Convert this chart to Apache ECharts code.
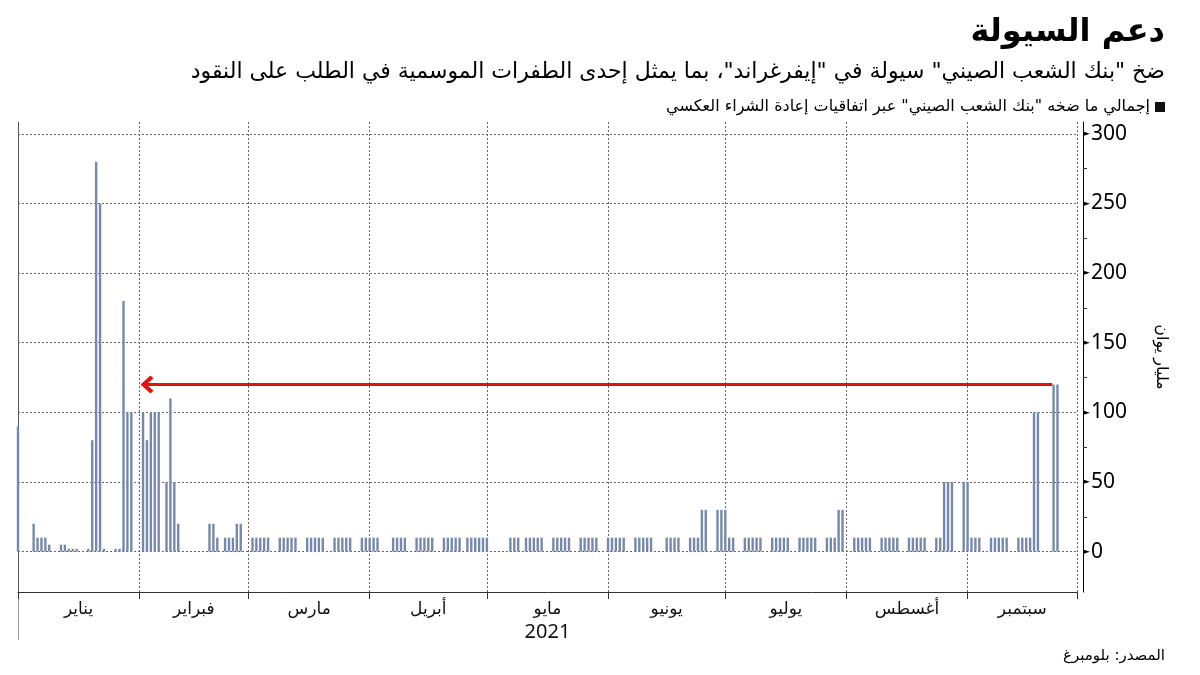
<!DOCTYPE html>
<html>
<head>
<meta charset="utf-8">
<script src="https://cdn.jsdelivr.net/npm/echarts@6/dist/echarts.min.js"></script>
<style>
html,body{margin:0;padding:0;background:#fff;}
#chart{width:1200px;height:675px;}
</style>
</head>
<body>
<div id="chart"></div>
<script>
// ---------- texts ----------
const titleText = 'دعم السيولة';
const subtitleText = 'ضخ "بنك الشعب الصيني" سيولة في "إيفرغراند"، بما يمثل إحدى الطفرات الموسمية في الطلب على النقود';
const seriesName = 'إجمالي ما ضخه "بنك الشعب الصيني" عبر اتفاقيات إعادة الشراء العكسي';
const sourceText = 'المصدر: بلومبرغ';
const yAxisName = 'مليار يوان';
const monthNames = ['يناير','فبراير','مارس','أبريل','مايو','يونيو','يوليو','أغسطس','سبتمبر'];
const yearLabel = '2021';
const yTickLabels = [0, 50, 100, 150, 200, 250, 300];
const yMinorTicks = [0, 25, 50, 75, 100, 125, 150, 175, 200, 225, 250, 275, 300];

// ---------- data: PBOC reverse repo injections, billion yuan ----------
const dec2020 = [['2020-12-31', 90]];
const jan2021 = [
  ['2021-01-04',20],['2021-01-05',10],['2021-01-06',10],['2021-01-07',10],['2021-01-08',5],
  ['2021-01-11',5],['2021-01-12',5],['2021-01-13',2],['2021-01-14',2],['2021-01-15',2],
  ['2021-01-18',2],['2021-01-19',80],['2021-01-20',280],['2021-01-21',250],['2021-01-22',2],
  ['2021-01-25',2],['2021-01-26',2],['2021-01-27',180],['2021-01-28',100],['2021-01-29',100]
];
const feb2021 = [
  ['2021-02-01',100],['2021-02-02',80],['2021-02-03',100],['2021-02-04',100],['2021-02-05',100],
  ['2021-02-07',50],['2021-02-08',110],['2021-02-09',50],['2021-02-10',20],
  ['2021-02-18',20],['2021-02-19',20],['2021-02-20',10],
  ['2021-02-22',10],['2021-02-23',10],['2021-02-24',10],['2021-02-25',20],['2021-02-26',20]
];
const mar2021 = [
  ['2021-03-01',10],['2021-03-02',10],['2021-03-03',10],['2021-03-04',10],['2021-03-05',10],
  ['2021-03-08',10],['2021-03-09',10],['2021-03-10',10],['2021-03-11',10],['2021-03-12',10],
  ['2021-03-15',10],['2021-03-16',10],['2021-03-17',10],['2021-03-18',10],['2021-03-19',10],
  ['2021-03-22',10],['2021-03-23',10],['2021-03-24',10],['2021-03-25',10],['2021-03-26',10],
  ['2021-03-29',10],['2021-03-30',10],['2021-03-31',10]
];
const apr2021 = [
  ['2021-04-01',10],['2021-04-02',10],
  ['2021-04-06',10],['2021-04-07',10],['2021-04-08',10],['2021-04-09',10],
  ['2021-04-12',10],['2021-04-13',10],['2021-04-14',10],['2021-04-15',10],['2021-04-16',10],
  ['2021-04-19',10],['2021-04-20',10],['2021-04-21',10],['2021-04-22',10],['2021-04-23',10],
  ['2021-04-25',10],['2021-04-26',10],['2021-04-27',10],['2021-04-28',10],['2021-04-29',10],['2021-04-30',10]
];
const may2021 = [
  ['2021-05-06',10],['2021-05-07',10],['2021-05-08',10],
  ['2021-05-10',10],['2021-05-11',10],['2021-05-12',10],['2021-05-13',10],['2021-05-14',10],
  ['2021-05-17',10],['2021-05-18',10],['2021-05-19',10],['2021-05-20',10],['2021-05-21',10],
  ['2021-05-24',10],['2021-05-25',10],['2021-05-26',10],['2021-05-27',10],['2021-05-28',10],
  ['2021-05-31',10]
];
const jun2021 = [
  ['2021-06-01',10],['2021-06-02',10],['2021-06-03',10],['2021-06-04',10],
  ['2021-06-07',10],['2021-06-08',10],['2021-06-09',10],['2021-06-10',10],['2021-06-11',10],
  ['2021-06-15',10],['2021-06-16',10],['2021-06-17',10],['2021-06-18',10],
  ['2021-06-21',10],['2021-06-22',10],['2021-06-23',10],['2021-06-24',30],['2021-06-25',30],
  ['2021-06-28',30],['2021-06-29',30],['2021-06-30',30]
];
const jul2021 = [
  ['2021-07-01',10],['2021-07-02',10],
  ['2021-07-05',10],['2021-07-06',10],['2021-07-07',10],['2021-07-08',10],['2021-07-09',10],
  ['2021-07-12',10],['2021-07-13',10],['2021-07-14',10],['2021-07-15',10],['2021-07-16',10],
  ['2021-07-19',10],['2021-07-20',10],['2021-07-21',10],['2021-07-22',10],['2021-07-23',10],
  ['2021-07-26',10],['2021-07-27',10],['2021-07-28',10],['2021-07-29',30],['2021-07-30',30]
];
const aug2021 = [
  ['2021-08-02',10],['2021-08-03',10],['2021-08-04',10],['2021-08-05',10],['2021-08-06',10],
  ['2021-08-09',10],['2021-08-10',10],['2021-08-11',10],['2021-08-12',10],['2021-08-13',10],
  ['2021-08-16',10],['2021-08-17',10],['2021-08-18',10],['2021-08-19',10],['2021-08-20',10],
  ['2021-08-23',10],['2021-08-24',10],['2021-08-25',50],['2021-08-26',50],['2021-08-27',50],
  ['2021-08-30',50],['2021-08-31',50]
];
const sep2021 = [
  ['2021-09-01',10],['2021-09-02',10],['2021-09-03',10],
  ['2021-09-06',10],['2021-09-07',10],['2021-09-08',10],['2021-09-09',10],['2021-09-10',10],
  ['2021-09-13',10],['2021-09-14',10],['2021-09-15',10],['2021-09-16',10],['2021-09-17',100],['2021-09-18',100],
  ['2021-09-22',120],['2021-09-23',120]
];
// annotation arrow: from latest injection back to the level last seen in early February
const arrowLevel = 120;
const arrowFrom = '2021-09-22 16';
const arrowTo = '2021-02-03 00';
const axisStart = '2021-01-01 00';
const axisEnd = '2021-09-29 00';

// ---------- helpers ----------
function parseStamp(s) {            // 'YYYY-MM-DD HH'
  const [d, h] = s.split(' ');
  const [y, m, dd] = d.split('-').map(Number);
  return new Date(y, m - 1, dd, Number(h || 0)).getTime();
}
function closeOfDay(s) {            // source plots each day's value at its close
  const [y, m, d] = s.split('-').map(Number);
  return new Date(y, m - 1, d + 1).getTime();
}
const allDays = [].concat(dec2020, jan2021, feb2021, mar2021, apr2021, may2021, jun2021, jul2021, aug2021, sep2021);
const barData = allDays.map(([d, v]) => [closeOfDay(d), v]);

const xMin = parseStamp(axisStart);
const xMax = parseStamp(axisEnd);
const monthStarts = monthNames.map((_, i) => new Date(2021, i, 1).getTime());
const monthMids = monthStarts.map((s, i) => {
  const e = Math.min(i + 1 < monthStarts.length ? monthStarts[i + 1] : xMax, xMax);
  return (s + e) / 2;
});

const AR = "'DejaVu Sans', sans-serif";
const NUM = "'Noto Sans', 'DejaVu Sans', sans-serif";
const chevron = 'path://M10,0 L20,10 L17,13 L11.5,7.5 L11.5,13 L8.5,13 L8.5,7.5 L3,13 L0,10 Z';

const chart = echarts.init(document.getElementById('chart'), null, {renderer: 'canvas'});
chart.setOption({
  animation: false,
  backgroundColor: '#fff',
  title: [
    {text: titleText, right: 30, top: 12, textStyle: {fontFamily: AR, fontSize: 32, fontWeight: 'bold', color: '#000'}},
    {text: subtitleText, right: 30, top: 56, textStyle: {fontFamily: AR, fontSize: 22, fontWeight: 'normal', color: '#000'}},
    {text: sourceText, right: 30, top: 644, textStyle: {fontFamily: AR, fontSize: 15, fontWeight: 'normal', color: '#000'}}
  ],
  legend: {
    right: 30, top: 94, align: 'right', icon: 'rect', itemWidth: 10, itemHeight: 10, itemGap: 6,
    itemStyle: {color: '#111'},
    textStyle: {fontFamily: AR, fontSize: 16, color: '#000'},
    data: [seriesName]
  },
  grid: {left: 18, right: 123, top: 122, bottom: 83},
  xAxis: {
    type: 'value', min: xMin, max: xMax, scale: true,
    axisLine: {show: true, onZero: false, lineStyle: {color: '#333', width: 1}},
    axisTick: {show: true, customValues: monthStarts.concat([xMax]), length: 7, lineStyle: {color: '#333'}},
    axisLabel: {
      customValues: monthMids, margin: 7, hideOverlap: false,
      formatter: function (v) {
        const m = new Date(v).getMonth();
        return m === 4 ? '{m|' + monthNames[m] + '}\n{y|' + yearLabel + '}' : '{m|' + monthNames[m] + '}';
      },
      rich: {
        m: {fontFamily: AR, fontSize: 17, color: '#111', lineHeight: 21},
        y: {fontFamily: NUM, fontSize: 20, color: '#111', lineHeight: 24}
      }
    },
    splitLine: {show: true, lineStyle: {color: '#666', type: [2, 2], width: 1}}
  },
  yAxis: [
    {
      type: 'value', position: 'right', offset: 6, min: -29, max: 308.5,
      axisLine: {show: true, lineStyle: {color: '#000', width: 1}},
      axisTick: {show: true, customValues: yMinorTicks, length: 4, lineStyle: {color: '#333'}},
      axisLabel: {
        customValues: yTickLabels, margin: 0,
        formatter: v => '{t|►}{n|' + v + '}',
        rich: {
          t: {fontFamily: 'DejaVu Sans', fontSize: 9, color: '#000', padding: [0, 1, 0, 0]},
          n: {fontFamily: NUM, fontSize: 21, color: '#000'}
        }
      },
      splitLine: {show: false},
      name: yAxisName, nameLocation: 'middle', nameRotate: -90, nameGap: 70,
      nameTextStyle: {fontFamily: AR, fontSize: 16, color: '#000'}
    },
    {
      type: 'value', position: 'left', min: -29, max: 308.5,
      axisLine: {show: true, lineStyle: {color: '#555', width: 1}},
      axisTick: {show: false}, axisLabel: {show: false}, splitLine: {show: false}
    }
  ],
  graphic: [
    {type: 'line', shape: {x1: 18.5, y1: 592, x2: 18.5, y2: 640}, style: {stroke: '#999', lineWidth: 1}, silent: true}
  ],
  series: [
    {
      name: seriesName, type: 'bar', yAxisIndex: 0, barWidth: 2.4, z: 3,
      itemStyle: {color: '#7689ad'},
      data: barData,
      markLine: {
        silent: true, z: 2, symbol: ['none', 'none'], label: {show: false},
        emphasis: {disabled: true},
        lineStyle: {color: '#666', type: [2, 2], width: 1},
        data: yTickLabels.map(v => ({yAxis: v})).concat([[
          {coord: [parseStamp(arrowFrom), arrowLevel], symbol: 'none',
           lineStyle: {color: '#e3120b', type: 'solid', width: 3}},
          {coord: [parseStamp(arrowTo), arrowLevel], symbol: chevron, symbolSize: [18, 13]}
        ]])
      }
    }
  ]
});
</script>
</body>
</html>
